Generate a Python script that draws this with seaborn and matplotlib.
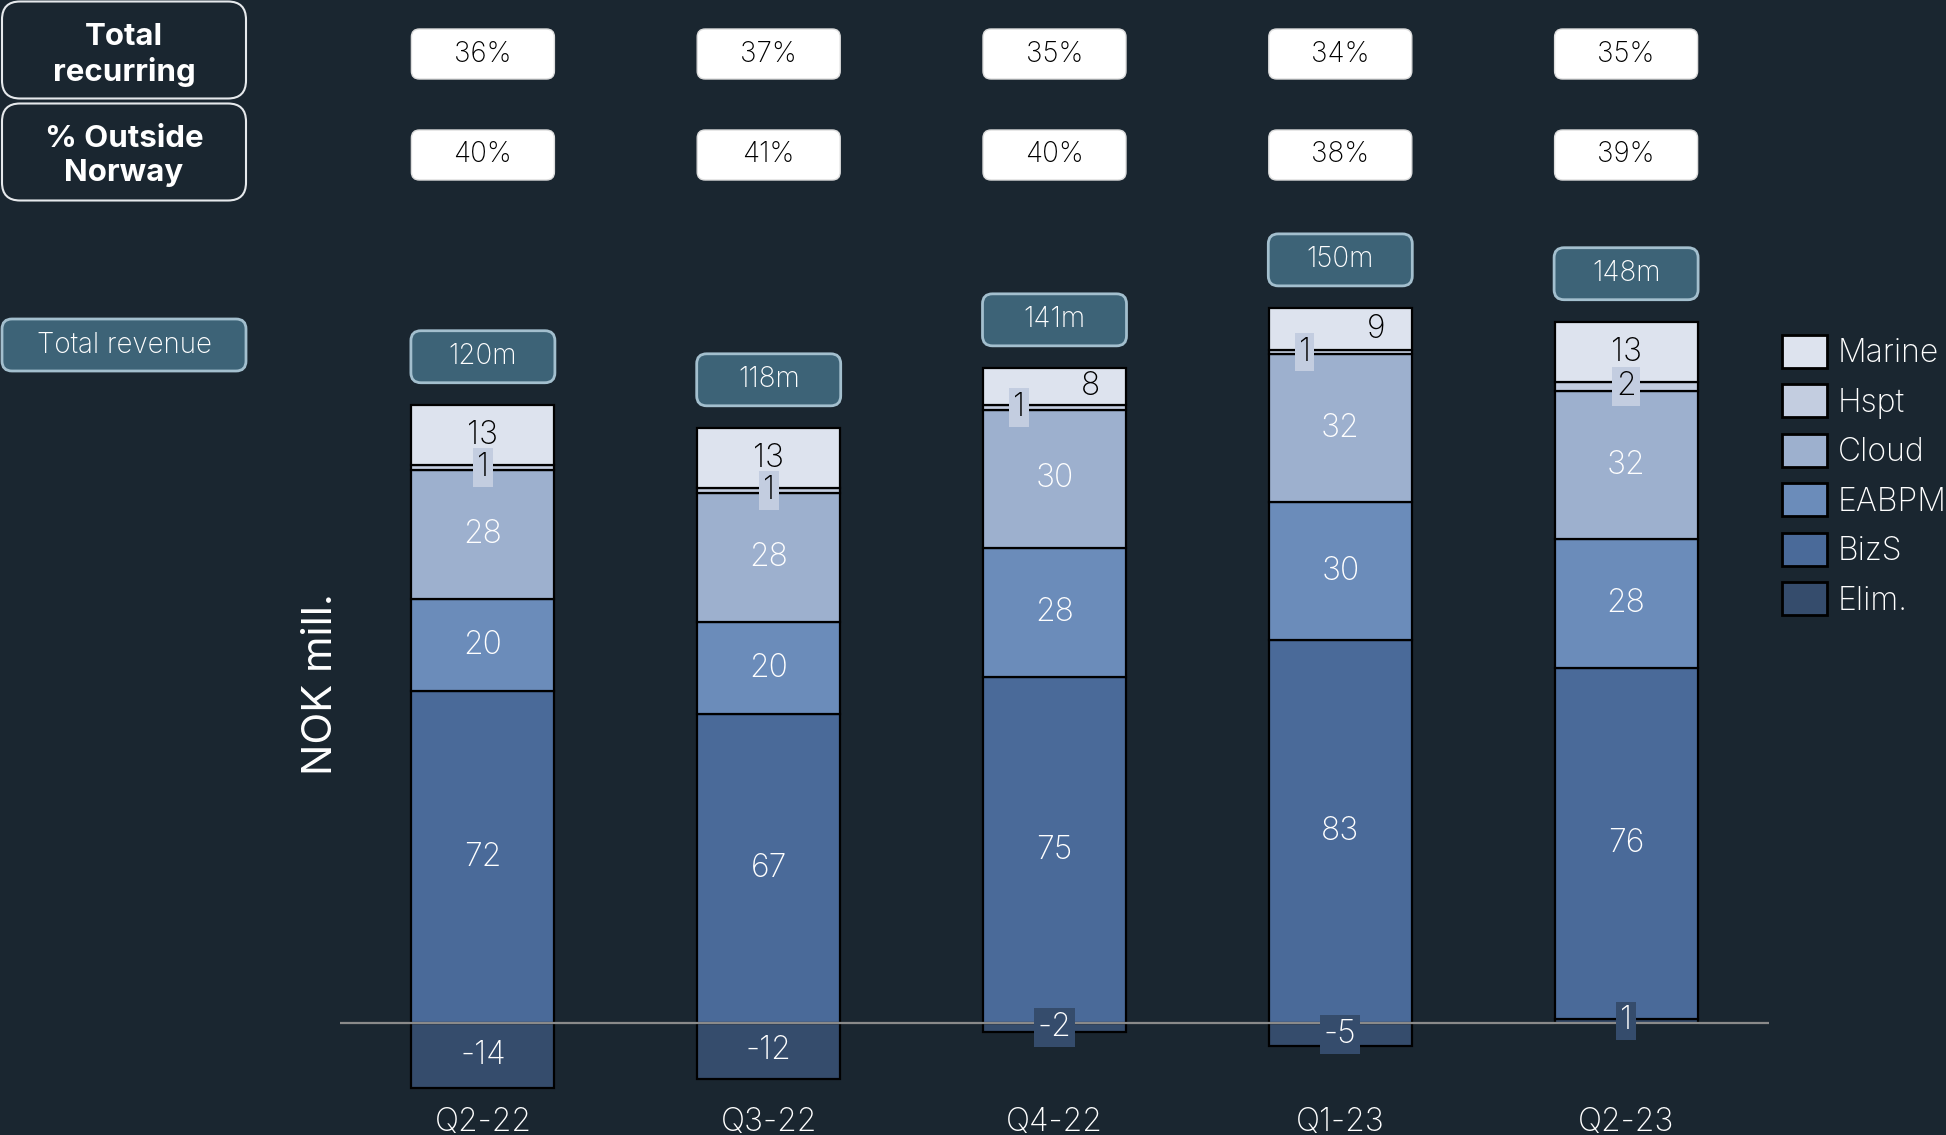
import numpy as np
import pandas as pd
import seaborn as sns
import matplotlib.pyplot as plt
from matplotlib.patches import FancyBboxPatch, Patch

quarters = ['Q2-22', 'Q3-22', 'Q4-22', 'Q1-23', 'Q2-23']
marine = [13, 13, 8, 9, 13]
hspt = [1, 1, 1, 1, 2]
cloud = [28, 28, 30, 32, 32]
eabpm = [20, 20, 28, 30, 28]
bizs = [72, 67, 75, 83, 76]
elim = [-14, -12, -2, -5, 1]
total_revenue = ['120m', '118m', '141m', '150m', '148m']
recurring = ['36%', '37%', '35%', '34%', '35%']
outside_norway = ['40%', '41%', '40%', '38%', '39%']

segments = ['Elim.', 'BizS', 'EABPM', 'Cloud', 'Hspt', 'Marine']
colors = {'Marine': '#dde3ee', 'Hspt': '#c3cde0', 'Cloud': '#9db0ce',
          'EABPM': '#6b8cba', 'BizS': '#4a6a99', 'Elim.': '#354c6c'}
BG = '#1a2630'
W, H = 1946, 1135

df = pd.DataFrame({'quarter': quarters, 'Marine': marine, 'Hspt': hspt, 'Cloud': cloud,
                   'EABPM': eabpm, 'BizS': bizs, 'Elim.': elim})

# stack bottoms: elim hangs from zero, the rest stacks on max(elim, 0)
bottoms = {'Elim.': np.zeros(len(df))}
running = np.maximum(df['Elim.'].to_numpy(), 0).astype(float)
for seg in segments[1:]:
    bottoms[seg] = running.copy()
    running += df[seg].to_numpy()
tops = running

sns.set_theme(style='white')
plt.rcParams['font.family'] = ['Inter', 'DejaVu Sans']
plt.rcParams['font.weight'] = 'light'

fig = plt.figure(figsize=(W / 100, H / 100), dpi=100, facecolor=BG)
ax = fig.add_axes([340 / W, 38 / H, 1429 / W, 904 / H])
ax.set_facecolor(BG)

for seg in segments:
    sns.barplot(data=df, x='quarter', y=seg, order=quarters, bottom=bottoms[seg],
                color=colors[seg], saturation=1, width=0.5, edgecolor='black',
                linewidth=1.6, errorbar=None, ax=ax)

ax.set_xlim(-0.5, 4.5)
ax.set_ylim(-16, 180)
ax.axhline(0, color='#8a8a8a', lw=1.6, zorder=2)
for s in ax.spines.values():
    s.set_visible(False)
ax.set_yticks([])
ax.set_xlabel('')
ax.tick_params(axis='x', length=0, pad=7, labelsize=23, labelcolor='white')
ax.set_ylabel('NOK mill.', fontsize=30, color='white')
ax.yaxis.set_label_coords(0.0, 0.457)

# segment labels
for i in range(len(quarters)):
    for seg in segments:
        v = df[seg][i]
        y = bottoms[seg][i] + v / 2
        dx = 0
        if marine[i] < 10 and seg == 'Marine':
            dx = 0.125
        if marine[i] < 10 and seg == 'Hspt':
            dx = -0.125
        tc = 'black' if seg in ('Marine', 'Hspt') else 'white'
        bbox = None
        if seg in ('Hspt', 'Elim.'):
            bbox = dict(boxstyle='square,pad=0.12', fc=colors[seg], ec='none')
        ax.text(i + dx, y, str(v), ha='center', va='center', color=tc,
                fontsize=23, bbox=bbox, zorder=5)

# overlay in figure pixels for the annotation boxes
ov = fig.add_axes([0, 0, 1, 1])
ov.set_xlim(0, W)
ov.set_ylim(H, 0)
ov.axis('off')


def rbox(cx, cy, w, h, text, fc, ec, lw, r, tc, size, weight='light', ls=1.15, ty=0):
    ov.add_patch(FancyBboxPatch((cx - w / 2, cy - h / 2), w, h,
                                boxstyle=f'round,pad=0,rounding_size={r}',
                                fc=fc, ec=ec, lw=lw))
    ov.text(cx, cy + ty, text, ha='center', va='center', color=tc, fontsize=size,
            fontweight=weight, linespacing=ls)


def px(i, y):
    dx, dy = ax.transData.transform((i, y))
    return dx, H - dy


for i in range(len(quarters)):
    cx, _ = px(i, 0)
    rbox(cx, 54, 143, 50, recurring[i], 'white', '#dddddd', 1, 8, 'black', 20)
    rbox(cx, 155, 143, 50, outside_norway[i], 'white', '#dddddd', 1, 8, 'black', 20)
    _, cy = px(i, tops[i] + 10.5)
    rbox(cx, cy, 144, 52, total_revenue[i], '#3d6377', '#a3bfce', 2, 10, 'white', 20)

rbox(124, 50, 244, 97, 'Total\nrecurring', BG, '#e6e9ec', 1.5, 18, 'white', 22.5, 'bold', 1.25, 5)
rbox(124, 152, 244, 97, '% Outside\nNorway', BG, '#e6e9ec', 1.5, 18, 'white', 22.5, 'bold', 1.25, 4)
rbox(124, 345, 244, 52, 'Total revenue', '#3d6377', '#a3bfce', 2, 10, 'white', 20)

handles = [Patch(facecolor=colors[s], edgecolor='black', lw=2, label=s) for s in segments[::-1]]
fig.legend(handles=handles, loc='upper left', bbox_to_anchor=(1782 / W, 1 - 335 / H),
           frameon=False, fontsize=23, labelcolor='white', handlelength=1.4,
           handleheight=1.2, handletextpad=0.35, labelspacing=0.48,
           borderpad=0, borderaxespad=0)

fig.savefig('out.png', dpi=100, facecolor=BG)
